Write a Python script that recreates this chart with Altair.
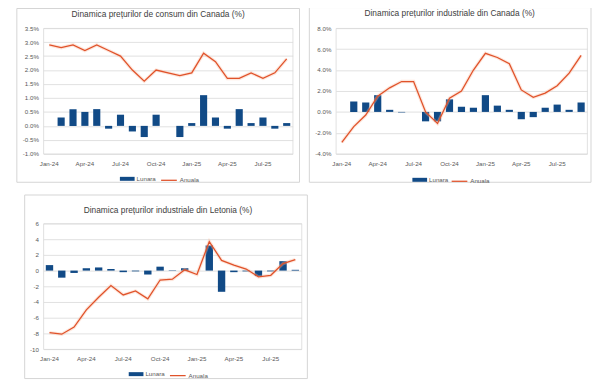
import altair as alt
import pandas as pd

months = ["Jan-24", "Feb-24", "Mar-24", "Apr-24", "May-24", "Jun-24", "Jul-24",
          "Aug-24", "Sep-24", "Oct-24", "Nov-24", "Dec-24", "Jan-25", "Feb-25",
          "Mar-25", "Apr-25", "May-25", "Jun-25", "Jul-25", "Aug-25", "Sep-25"]
tick_months = ["Jan-24", "Apr-24", "Jul-24", "Oct-24", "Jan-25", "Apr-25", "Jul-25"]

# Canada CPI (%)
cpi_lunara = [0.0, 0.3, 0.6, 0.5, 0.6, -0.1, 0.4, -0.2, -0.4, 0.4, 0.0, -0.4,
              0.1, 1.1, 0.3, -0.1, 0.6, 0.1, 0.3, -0.1, 0.1]
cpi_anuala = [2.9, 2.8, 2.9, 2.7, 2.9, 2.7, 2.5, 2.0, 1.6, 2.0, 1.9, 1.8,
              1.9, 2.6, 2.3, 1.7, 1.7, 1.9, 1.7, 1.9, 2.4]

# Canada industrial prices (%)
ippi_lunara = [0.0, 1.0, 0.9, 1.6, 0.2, -0.05, 0.0, -0.9, -0.9, 1.2, 0.5, 0.4,
               1.6, 0.6, 0.2, -0.7, -0.5, 0.4, 0.7, 0.2, 0.9]
ippi_anuala = [-2.9, -1.4, -0.3, 1.5, 2.3, 2.9, 2.9, 0.0, -1.1, 1.3, 2.0, 4.0,
               5.6, 5.2, 4.6, 2.1, 1.4, 1.8, 2.5, 3.7, 5.4]

# Latvia industrial prices (%)
lv_lunara = [0.7, -0.9, -0.3, 0.3, 0.4, 0.2, -0.2, -0.1, -0.5, 0.5, -0.05, 0.3,
             0.0, 3.2, -2.7, -0.2, -0.1, -0.7, -0.1, 1.2, 0.1]
lv_anuala = [-7.9, -8.1, -7.2, -5.0, -3.4, -1.9, -3.1, -2.6, -3.6, -1.2, -1.1, 0.1,
             -0.5, 3.7, 1.3, 0.7, 0.2, -0.8, -0.6, 0.9, 1.4]

titles = ["Dinamica prețurilor de consum din Canada (%)",
          "Dinamica prețurilor industriale din Canada (%)",
          "Dinamica prețurilor industriale din Letonia (%)"]

BLUE = "#114a86"
RED = "#e0522a"
GLOW = "#f8b89a"
FONT = "Liberation Sans"
LBL = "#595959"


def panel(lunara, anuala, ydomain, yvalues, pct, title, width, frame, leg, tpos):
    df = pd.DataFrame({"month": months, "Lunara": lunara, "Anuala": anuala})
    if pct:
        expr = "(datum.value < 0 ? '-' : '') + format(abs(datum.value), '.1f') + '%'"
    else:
        expr = "(datum.value < 0 ? '-' : '') + format(abs(datum.value), 'd')"
    x = alt.X("month:N", sort=months,
              scale=alt.Scale(paddingInner=0.4, paddingOuter=0.2),
              axis=alt.Axis(values=tick_months, labelAngle=0, title=None,
                            grid=False, labelPadding=7))
    yscale = alt.Scale(domain=ydomain, nice=False, zero=False)
    yaxis = alt.Axis(values=yvalues, labelExpr=expr, title=None, grid=True,
                     labelPadding=5)
    fx1, fx2, fy1, fy2 = frame
    one = alt.Data(values=[{}])
    box = alt.Chart(one).mark_rect(
        fillOpacity=0, stroke="#d4d4d4", strokeWidth=1
    ).encode(x=alt.value(fx1), x2=alt.value(fx2), y=alt.value(fy1), y2=alt.value(fy2))
    head = alt.Chart(one).mark_text(
        font=FONT, fontSize=8.5, color="#404040", align="center", baseline="alphabetic"
    ).encode(x=alt.value(tpos[0]), y=alt.value(tpos[1]), text=alt.value(title))

    base = alt.Chart(df)
    bars = base.transform_calculate(s="'Lunara'").mark_bar(color=BLUE).encode(
        x=x,
        y=alt.Y("Lunara:Q", scale=yscale, axis=yaxis),
        color=alt.Color("s:N", scale=alt.Scale(domain=["Lunara"], range=[BLUE]),
                        legend=alt.Legend(title=None, orient="none",
                                          legendX=leg[0], legendY=leg[2],
                                          symbolType="M-1,-0.27H1V0.27H-1Z",
                                          symbolSize=225, symbolStrokeWidth=0,
                                          labelOffset=2)),
    )
    glow = base.mark_line(strokeWidth=3.5, opacity=0.35).encode(
        x=x, y=alt.Y("Anuala:Q", scale=yscale, axis=yaxis), stroke=alt.value(GLOW)
    )
    line = base.transform_calculate(s2="'Anuala'").mark_line(strokeWidth=1.3).encode(
        x=x,
        y=alt.Y("Anuala:Q", scale=yscale, axis=yaxis),
        stroke=alt.Stroke("s2:N", scale=alt.Scale(domain=["Anuala"], range=[RED]),
                          legend=alt.Legend(title=None, orient="none",
                                            legendX=leg[1], legendY=leg[2],
                                            symbolType="stroke", symbolSize=256,
                                            symbolStrokeWidth=1.3, labelOffset=2)),
    )
    return alt.layer(box, head, bars, glow, line).properties(width=width, height=128)


tl = panel(cpi_lunara, cpi_anuala, [-1, 3.5],
           [-1, -0.5, 0, 0.5, 1, 1.5, 2, 2.5, 3, 3.5], True, titles[0], 254,
           (-27, 261, -20, 157), (78, 119, 146), (117, -11))
tr = panel(ippi_lunara, ippi_anuala, [-4, 8], [-4, -2, 0, 2, 4, 6, 8], True,
           titles[1], 256, (-27, 260, -21, 157), (78, 117, 147), (116, -12))
bl = panel(lv_lunara, lv_anuala, [-10, 6], [-10, -8, -6, -4, -2, 0, 2, 4, 6], False,
           titles[2], 263, (-19, 269, -29, 158), (87, 128, 146), (127, -11))

top = alt.hconcat(tl, tr, spacing=8).resolve_scale(
    color="independent", stroke="independent", y="independent"
).resolve_legend(color="independent", stroke="independent")

chart = alt.vconcat(top, bl, spacing=8).resolve_scale(
    color="independent", stroke="independent", y="independent"
).resolve_legend(color="independent", stroke="independent").properties(
    padding={"left": 8, "top": -5, "right": 0, "bottom": 0}
).configure_axis(
    labelFont=FONT, labelFontSize=6.3, labelColor=LBL, domain=False, ticks=False,
    gridColor="#d9d9d9", gridWidth=0.8,
).configure_legend(
    labelFont=FONT, labelFontSize=6.3, labelColor=LBL,
).configure_view(
    stroke="#d9d9d9", strokeWidth=0.8,
)

chart.save("out.html", embed_options={"renderer": "svg", "actions": False})
